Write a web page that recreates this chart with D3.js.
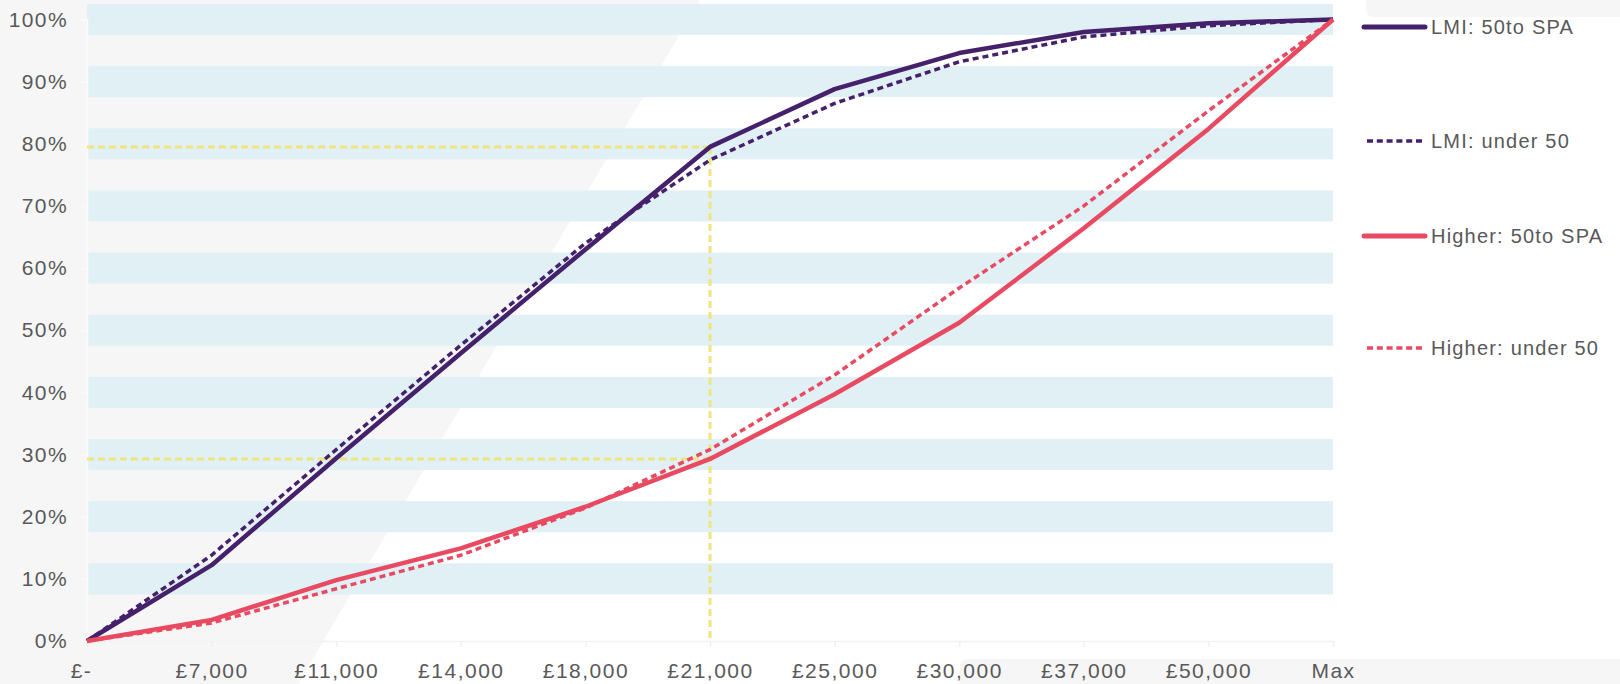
<!DOCTYPE html>
<html>
<head>
<meta charset="utf-8">
<script src="https://cdn.jsdelivr.net/npm/d3@7"></script>
<style>
  html, body { margin: 0; padding: 0; background: #f6f6f6; }
  svg { display: block; }
  text { font-family: "Liberation Sans", Arial, sans-serif; fill: #595959; }
</style>
</head>
<body>
<svg id="chart" width="1620" height="684"></svg>
<script>
// Income thresholds along the x axis
const categories = ["£-", "£7,000", "£11,000", "£14,000", "£18,000", "£21,000",
                    "£25,000", "£30,000", "£37,000", "£50,000", "Max"];

// Cumulative share of each group (%) at each threshold
const lmi50toSpa   = [0, 12.2, 29.4, 46.3, 63.0, 79.5, 88.8, 94.6, 98.0, 99.4, 100];
const lmiUnder50   = [0, 13.8, 30.8, 47.6, 64.0, 77.4, 86.5, 93.2, 97.2, 99.0, 100];
const higher50toSpa = [0, 3.4, 9.8, 14.9, 21.6, 29.3, 39.7, 51.2, 66.4, 82.4, 100];
const higherUnder50 = [0, 2.9, 8.4, 13.8, 21.4, 30.8, 42.8, 56.8, 70.0, 85.3, 100];

const seriesNames = ["LMI: 50to SPA", "LMI: under 50", "Higher: 50to SPA", "Higher: under 50"];
const yTicks = [0, 10, 20, 30, 40, 50, 60, 70, 80, 90, 100];

// Threshold highlighted with guide lines
const guideCategory = "£21,000";

const series = [
  { name: seriesNames[0], values: lmi50toSpa,    color: "#45216b", dashed: false },
  { name: seriesNames[1], values: lmiUnder50,    color: "#45216b", dashed: true },
  { name: seriesNames[2], values: higher50toSpa, color: "#e84a62", dashed: false },
  { name: seriesNames[3], values: higherUnder50, color: "#e84a62", dashed: true }
];

const svg = d3.select("#chart");
const W = 1620, H = 684;

// Background: light grey page with a white slanted panel behind the plot
svg.append("rect").attr("width", W).attr("height", H).attr("fill", "#f6f6f6");
svg.append("path")
  .attr("fill", "#ffffff")
  .attr("d", "M700,0 L1366,0 L1366,9 Q1366,17 1374,17 L1620,17 L1620,659 L968,659 Q960,659 960,667 L960,684 L298,684 Z");

const x = d3.scalePoint().domain(categories).range([87, 1333]);
const y = d3.scaleLinear().domain([0, 100]).range([641, 19.5]);

const plot = svg.append("g");

// Horizontal bands centred on each gridline
const bandCentres = yTicks.filter(t => t > 0);
plot.selectAll("rect.band")
  .data(bandCentres)
  .join("rect")
  .attr("class", "band")
  .attr("x", x(categories[0]))
  .attr("width", x(categories[categories.length - 1]) - x(categories[0]))
  .attr("y", d => y(d + 2.5))
  .attr("height", d => y(d - 2.5) - y(d + 2.5))
  .attr("fill", "#e1f0f4");

// Axes
const yAxis = d3.axisLeft(y).tickValues(yTicks).tickFormat(d => d + "%").tickSize(6).tickPadding(13);
const gy = svg.append("g").attr("transform", `translate(${x(categories[0])},0)`).call(yAxis);
gy.select(".domain").attr("stroke", "#fbfbfb").attr("stroke-width", 1.5);
gy.selectAll(".tick line").attr("stroke", "#fbfbfb").attr("stroke-width", 1.5);
gy.selectAll(".tick text")
  .style("font-size", "21px").style("letter-spacing", "1.4px")
  .attr("fill", "#595959");

const xAxis = d3.axisBottom(x).tickSize(6).tickPadding(16);
const gx = svg.append("g").attr("transform", `translate(0,${y(0)})`).call(xAxis);
gx.select(".domain").attr("stroke", "#f2f2f2").attr("stroke-width", 1.5);
gx.selectAll(".tick line").attr("stroke", "#f0f0f0").attr("stroke-width", 1.5);
gx.selectAll(".tick text")
  .style("font-size", "21px").style("letter-spacing", "1.5px")
  .attr("fill", "#595959")
  .attr("dx", d => d === categories[0] ? -6 : 0);

// Yellow guides at the highlighted threshold
const gi = categories.indexOf(guideCategory);
const guideLevels = [lmi50toSpa[gi], higher50toSpa[gi]];
const guides = svg.append("g")
  .attr("stroke", "#efe47e").attr("stroke-width", 3).attr("stroke-dasharray", "7,4").attr("fill", "none");
guides.selectAll("line.h")
  .data(guideLevels)
  .join("line")
  .attr("class", "h")
  .attr("x1", x(categories[0])).attr("x2", x(guideCategory))
  .attr("y1", d => y(d)).attr("y2", d => y(d));
guides.append("line")
  .attr("x1", x(guideCategory)).attr("x2", x(guideCategory))
  .attr("y1", y(d3.max(guideLevels))).attr("y2", y(0));

// Series lines
const line = d3.line()
  .x((d, i) => x(categories[i]))
  .y(d => y(d));

svg.append("g").selectAll("path.series")
  .data(series)
  .join("path")
  .attr("class", "series")
  .attr("fill", "none")
  .attr("stroke", d => d.color)
  .attr("stroke-width", d => d.dashed ? 3.5 : 4.5)
  .attr("stroke-linejoin", "round")
  .attr("stroke-dasharray", d => d.dashed ? "6,4" : null)
  .attr("d", d => line(d.values));

// Legend
const legendY = [27, 141, 236, 348];
const legend = svg.append("g").selectAll("g.item")
  .data(series)
  .join("g")
  .attr("class", "item")
  .attr("transform", (d, i) => `translate(0,${legendY[i]})`);
legend.append("line")
  .attr("x1", d => d.dashed ? 1367 : 1364)
  .attr("x2", d => d.dashed ? 1422 : 1425)
  .attr("stroke", d => d.color)
  .attr("stroke-width", d => d.dashed ? 3.5 : 5)
  .attr("stroke-linecap", d => d.dashed ? "butt" : "round")
  .attr("stroke-dasharray", d => d.dashed ? "6,3.8" : null);
legend.append("text")
  .attr("x", 1431)
  .attr("dy", "0.35em")
  .style("font-size", "20px")
  .style("letter-spacing", "1.2px")
  .text(d => d.name);
</script>
</body>
</html>
